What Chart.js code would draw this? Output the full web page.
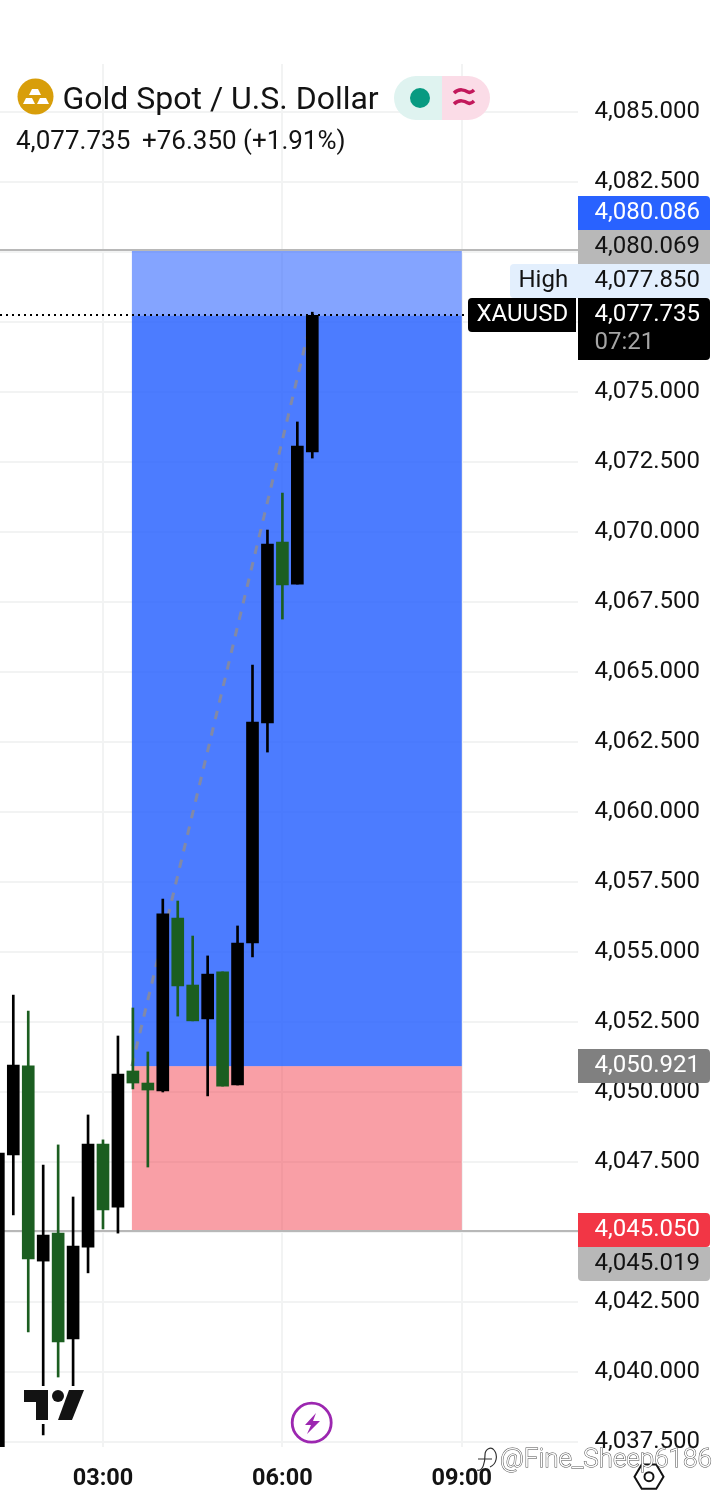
<!DOCTYPE html>
<html><head><meta charset="utf-8">
<style>html,body{margin:0;padding:0;background:#fff}#w{position:relative;width:720px;height:1502px}canvas{display:block}</style>
<script src="https://cdn.jsdelivr.net/npm/chart.js@4"></script>
</head><body><div id="w"><canvas id="c" width="720" height="1502"></canvas></div>
<script>
// 15-minute candles, times in minutes since midnight
const times=[75,90,105,120,135,150,165,180,195,210,225,240,255,270,285,300,315,330,345,360,375,390];
const opens=[4036,4047.75,4050.93,4043.96,4044.96,4041.18,4044.46,4048.14,4045.89,4050.75,4050.32,4050.04,4056.21,4053.82,4052.61,4054.29,4050.25,4055.32,4063.18,4069.64,4068.14,4072.86];
const highs=[4047.82,4053.46,4052.89,4047.39,4048.11,4046.25,4049.18,4048.29,4052,4053,4051.43,4056.89,4056.82,4055.57,4054.86,4054.29,4055.93,4065.25,4070.07,4071.39,4073.93,4077.85];
const lows=[4036,4045.61,4041.43,4037.75,4039.82,4039.5,4043.54,4045.11,4044.96,4050.11,4047.32,4050,4052.71,4052.54,4049.86,4050.21,4050.25,4054.82,4062.14,4066.89,4068.14,4072.64];
const closes=[4047.82,4050.96,4044.04,4044.89,4041.07,4044.5,4048.14,4045.79,4050.64,4050.32,4050.07,4056.36,4053.79,4052.54,4054.21,4050.21,4055.32,4063.21,4069.57,4068.11,4073.07,4077.735];
const yTicks=[4037.5,4040,4042.5,4045,4047.5,4050,4052.5,4055,4057.5,4060,4062.5,4065,4067.5,4070,4072.5,4075,4077.5,4080,4082.5,4085];
const xTicks=[180,360,540];
const xTickLabels=['03:00','06:00','09:00'];
const lastPrice=4077.735, targetPrice=4080.069, entryPrice=4050.921, stopPrice=4045.019;
const positionStart=209, positionEnd=540, signalEnd=390;

const UP='#000000', DOWN='#1b5e20';
const colors=times.map((t,i)=>closes[i]>=opens[i]?UP:DOWN);
const TXT='#131313', FONT='Roboto, sans-serif';
const money=v=>v.toLocaleString('en-US',{minimumFractionDigits:3,maximumFractionDigits:3});

function roundRect(c,x,y,w,h,r){c.beginPath();c.roundRect(x,y,w,h,r);c.fill();}

const positionPlugin={id:'position',
 beforeDatasetsDraw(ch){
  const c=ch.ctx,X=ch.scales.x,Y=ch.scales.y,a=ch.chartArea;
  const x0=X.getPixelForValue(positionStart),x1=X.getPixelForValue(positionEnd);
  const yT=Y.getPixelForValue(targetPrice),yL=Y.getPixelForValue(lastPrice),yE=Y.getPixelForValue(entryPrice),yS=Y.getPixelForValue(stopPrice);
  c.save();
  c.fillStyle='rgba(41,98,255,0.575)';c.fillRect(x0,yT,x1-x0,yL-yT);
  c.fillStyle='rgba(41,98,255,0.836)';c.fillRect(x0,yL,x1-x0,yE-yL);
  c.fillStyle='rgba(242,54,69,0.48)';c.fillRect(x0,yE,x1-x0,yS-yE);
  c.fillStyle='#b8b8b8';
  c.fillRect(a.left,Math.round(yT)-1,a.right-a.left,2);
  c.fillRect(a.left,Math.round(yS)-1,a.right-a.left,2);
  c.restore();
 },
 afterDatasetsDraw(ch){
  const c=ch.ctx,Y=ch.scales.y,a=ch.chartArea;
  const yL=Math.round(Y.getPixelForValue(lastPrice));
  c.save();c.strokeStyle='#000';c.lineWidth=2;c.setLineDash([2,4]);
  c.beginPath();c.moveTo(a.left,yL);c.lineTo(466,yL);c.stroke();c.restore();
 },
 afterDraw(ch){
  const c=ch.ctx;
  c.save();
  // price tags
  c.textBaseline='middle';c.textAlign='left';c.font='24px '+FONT;
  const tag=(x,y,w,h,bg,fg,t,tx,rad)=>{c.fillStyle=bg;roundRect(c,x,y,w,h,rad);c.fillStyle=fg;c.fillText(t,tx,y+h/2);};
  tag(578,196,132,34,'#2962ff','#fff','4,080.086',594.5,[0,4,0,0]);
  tag(578,230,132,34,'#b8b8b8',TXT,money(targetPrice),594.5,0);
  tag(510,264,68,34,'#e3effd',TXT,'High',518.5,[4,0,0,4]);
  tag(578,264,132,34,'#e3effd',TXT,'4,077.850',594.5,0);
  tag(468,298,108,34,'#000','#fff','XAUUSD',476.5,[4,0,0,4]);
  c.fillStyle='#000';roundRect(c,578,298,132,62,[0,4,4,0]);
  c.fillStyle='#fff';c.fillText(money(lastPrice),594.5,315);
  c.fillStyle='#a6a6a6';c.fillText('07:21',594.5,343);
  tag(578,1049,132,34,'#808080','#fff',money(entryPrice),594.5,[0,4,4,0]);
  tag(578,1213,132,34,'#f23645','#fff','4,045.050',594.5,[0,4,4,0]);
  tag(578,1247,132,34,'#b8b8b8',TXT,money(stopPrice),594.5,[0,0,4,4]);

  // header
  c.fillStyle='#d89e0a';c.beginPath();c.arc(35.5,96.5,18,0,7);c.fill();
  c.fillStyle='#fff';
  [[29,95,41,89,32,38],[23,104,35,98,26,32],[37,104,49,98,40,46]].forEach(b=>{c.beginPath();c.moveTo(b[0],b[1]);c.lineTo(b[2],b[1]);c.lineTo(b[5],b[3]);c.lineTo(b[4],b[3]);c.closePath();c.fill();});
  c.fillStyle=TXT;c.font='32px '+FONT;c.fillText('Gold Spot / U.S. Dollar',62.5,100.5);
  c.font='26px '+FONT;c.fillText(money(lastPrice),16,142);c.fillText('+76.350 (+1.91%)',142,142);
  // status pill
  c.save();c.beginPath();c.roundRect(394,76,96,44,22);c.clip();
  c.fillStyle='#dff3f0';c.fillRect(394,76,48,44);c.fillStyle='#fbdce7';c.fillRect(442,76,48,44);c.restore();
  c.fillStyle='#089a81';c.beginPath();c.arc(420,98,10,0,7);c.fill();
  c.strokeStyle='#c2185b';c.lineWidth=3.5;
  [92,103].forEach(y=>{c.beginPath();c.moveTo(454,y+1);c.bezierCurveTo(459,y-4,465,y-2,468,y);c.bezierCurveTo(470,y+1,472,y,474,y-2);c.stroke();});

  // TradingView mark
  c.fillStyle='#fff';c.fillRect(22,1386,64,38);
  c.fillStyle='#131313';
  c.beginPath();c.moveTo(24,1390);c.lineTo(48,1390);c.lineTo(48,1420);c.lineTo(36,1420);c.lineTo(36,1402);c.lineTo(24,1402);c.closePath();c.fill();
  c.beginPath();c.arc(58,1396,6,0,7);c.fill();
  c.beginPath();c.moveTo(69,1390);c.lineTo(84,1390);c.lineTo(72,1420);c.lineTo(58,1420);c.closePath();c.fill();

  // lightning button
  c.fillStyle='#fff';c.strokeStyle='#9c27b0';c.lineWidth=2.8;c.beginPath();c.arc(311.7,1422.7,19.5,0,7);c.fill();c.stroke();
  c.fillStyle='#9c27b0';c.beginPath();
  [[316,1413],[305,1425],[311,1425],[307,1434],[320,1421],[313,1421]].forEach((p,i)=>i?c.lineTo(p[0],p[1]):c.moveTo(p[0],p[1]));c.closePath();c.fill();

  // settings hexagon
  c.strokeStyle='#131313';c.lineWidth=2;c.beginPath();
  for(let i=0;i<6;i++){const t=i*Math.PI/3;const px=649+14.5*Math.cos(t),py=1476.7+14*Math.sin(t);i?c.lineTo(px,py):c.moveTo(px,py);}
  c.closePath();c.stroke();c.beginPath();c.arc(649,1476.7,4.5,0,7);c.stroke();

  // watermark
  c.font='300 26px '+FONT;c.textBaseline='alphabetic';c.lineWidth=1;c.strokeStyle='rgba(40,40,40,.85)';c.fillStyle='#fff';
  c.strokeText('@Fine_Sheep6186',500,1467);c.fillText('@Fine_Sheep6186',500,1467);
  c.lineWidth=1.2;c.strokeStyle='#333';c.beginPath();
  c.moveTo(477,1470);c.bezierCurveTo(483,1472,485,1462,485,1455);c.bezierCurveTo(485,1449,491,1446,494,1450);c.bezierCurveTo(498,1455,497,1464,490,1467);
  c.moveTo(478,1459);c.lineTo(492,1459);c.stroke();
  c.restore();
 }};

new Chart(document.getElementById('c'),{
 type:'bar',
 data:{datasets:[
  {type:'line',order:3,data:[{x:positionStart,y:entryPrice},{x:signalEnd,y:lastPrice}],borderColor:'rgba(140,140,150,.85)',borderWidth:3,borderDash:[8.5,8.5],pointRadius:0,fill:false,tension:0},
  {order:2,data:times.map((t,i)=>({x:t,y:[lows[i],highs[i]]})),backgroundColor:colors,barThickness:2,grouped:false,borderWidth:0},
  {order:1,data:times.map((t,i)=>({x:t,y:[Math.min(opens[i],closes[i]),Math.max(opens[i],closes[i])]})),backgroundColor:colors,barThickness:12,grouped:false,borderWidth:0}
 ]},
 options:{responsive:false,animation:false,events:[],devicePixelRatio:1,
  layout:{padding:{top:64,left:0,right:0,bottom:0}},
  plugins:{legend:{display:false},title:{display:false},tooltip:{enabled:false}},
  scales:{
   x:{type:'linear',offset:false,min:76.66,max:656.59,
      afterFit(s){s.height=55;},
      afterBuildTicks(s){s.ticks=xTicks.map(v=>({value:v}));},
      grid:{color:'#f2f3f3',lineWidth:2,drawTicks:false,offset:false},border:{display:false},
      ticks:{autoSkip:false,maxRotation:0,padding:18,color:TXT,font:{family:FONT,size:23.5,weight:'bold'},
             callback:v=>xTickLabels[xTicks.indexOf(v)]}},
   y:{type:'linear',position:'right',min:4037.321,max:4086.714,
      afterFit(s){s.width=142;},
      afterBuildTicks(s){s.ticks=yTicks.map(v=>({value:v}));},
      grid:{color:'#f2f3f3',lineWidth:2,drawTicks:false},border:{display:false},
      ticks:{autoSkip:false,padding:16.5,labelOffset:0,color:TXT,font:{family:FONT,size:24},callback:v=>money(v)}}
  }},
 plugins:[positionPlugin]
});
</script></body></html>
